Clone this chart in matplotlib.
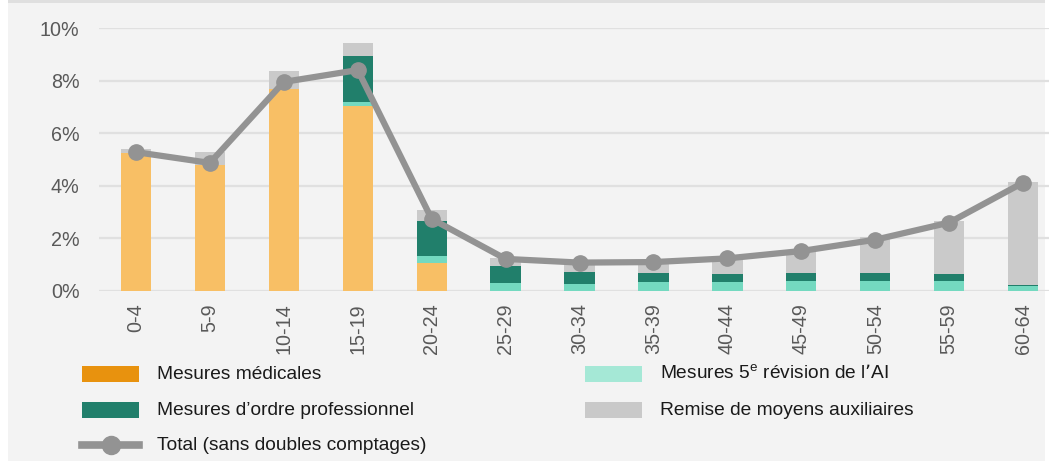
import matplotlib
matplotlib.use("Agg")
import matplotlib.pyplot as plt
import matplotlib.patches as patches
from matplotlib.lines import Line2D
import numpy as np

plt.rcParams['font.family'] = ['Liberation Sans', 'DejaVu Sans']

ages = ['0-4', '5-9', '10-14', '15-19', '20-24', '25-29', '30-34', '35-39',
        '40-44', '45-49', '50-54', '55-59', '60-64']
medicales = [5.25, 4.80, 7.68, 7.03, 1.05, 0, 0, 0, 0, 0, 0, 0, 0]
revision5 = [0, 0, 0, 0.16, 0.28, 0.29, 0.28, 0.34, 0.34, 0.39, 0.39, 0.39, 0.20]
professionnel = [0, 0, 0, 1.75, 1.33, 0.66, 0.45, 0.34, 0.29, 0.29, 0.29, 0.26, 0.04]
auxiliaires = [0.15, 0.50, 0.69, 0.49, 0.41, 0.30, 0.32, 0.37, 0.55, 0.88, 1.38, 2.02, 3.90]
total = [5.28, 4.87, 7.95, 8.40, 2.74, 1.22, 1.08, 1.10, 1.24, 1.52, 1.95, 2.60, 4.12]

W, H = 1049, 461
fig = plt.figure(figsize=(W / 100, H / 100), dpi=100, facecolor='white')

# panel background
fig.patches.append(patches.Rectangle((8 / W, 0), 1037 / W, 458 / H, transform=fig.transFigure,
                                     facecolor='#f3f3f3', edgecolor='none', zorder=-10))
fig.patches.append(patches.Rectangle((8 / W, 458 / H), 1037 / W, 3 / H, transform=fig.transFigure,
                                     facecolor='#dfdfdf', edgecolor='none', zorder=-10))

ax = fig.add_axes([99 / W, (H - 291) / H, 950 / W, 263 / H])
ax.set_facecolor('none')

x = np.arange(len(ages))
bw = 0.41
c_med, c_rev, c_pro, c_aux = '#f8bf65', '#74d9c0', '#217f6b', '#cacaca'
b = np.zeros(len(ages))
for vals, col in [(medicales, c_med), (revision5, c_rev), (professionnel, c_pro), (auxiliaires, c_aux)]:
    ax.bar(x, vals, bw, bottom=b, color=col, zorder=2)
    b = b + np.array(vals)

ax.plot(x, total, color='#939393', lw=4.5, marker='o', ms=11, zorder=3)

ax.set_xlim(-0.5, 12.35)
ax.set_ylim(0, 10)
ax.set_yticks(range(0, 11, 2))
ax.set_yticklabels([f'{v}%' for v in range(0, 11, 2)])
ax.set_xticks(x)
ax.set_xticklabels(ages, rotation=90)
ax.tick_params(axis='both', length=0, labelsize=14.2, labelcolor='#595959')
ax.tick_params(axis='y', pad=14)
ax.tick_params(axis='x', pad=9)
ax.grid(axis='y', color='#e0e0e0', lw=1.6, zorder=0)
for s in ax.spines.values():
    s.set_visible(False)

# legend drawn by hand
def swatch(px, py, col):
    fig.patches.append(patches.Rectangle((px / W, (H - py - 8) / H), 57 / W, 16 / H,
                                         transform=fig.transFigure, facecolor=col, edgecolor='none'))

legend_rows = [
    (82, 374, 'patch', '#e8920e', 'Mesures médicales'),
    (82, 410, 'patch', '#217f6b', 'Mesures d’ordre professionnel'),
    (82, 445, 'line', '#939393', 'Total (sans doubles comptages)'),
    (585, 374, 'patch', '#a5e8d6', 'Mesures 5$^{\\mathregular{e}}$ révision de l’AI'),
    (585, 410, 'patch', '#c9c9c9', 'Remise de moyens auxiliaires'),
]
for px, py, kind, col, label in legend_rows:
    if kind == 'patch':
        swatch(px, py, col)
    else:
        fig.add_artist(Line2D([px / W, (px + 57) / W], [(H - py) / H] * 2, transform=fig.transFigure,
                              color=col, lw=5.5, marker=None))
        fig.add_artist(Line2D([(px + 28.5) / W], [(H - py) / H], transform=fig.transFigure,
                              color=col, marker='o', ms=13, lw=0))
    fig.text((px + 75) / W, (H - py) / H, label, fontsize=13.8, color='#1a1a1a',
             va='center', ha='left')

fig.savefig('out.png', dpi=100, facecolor=fig.get_facecolor())
